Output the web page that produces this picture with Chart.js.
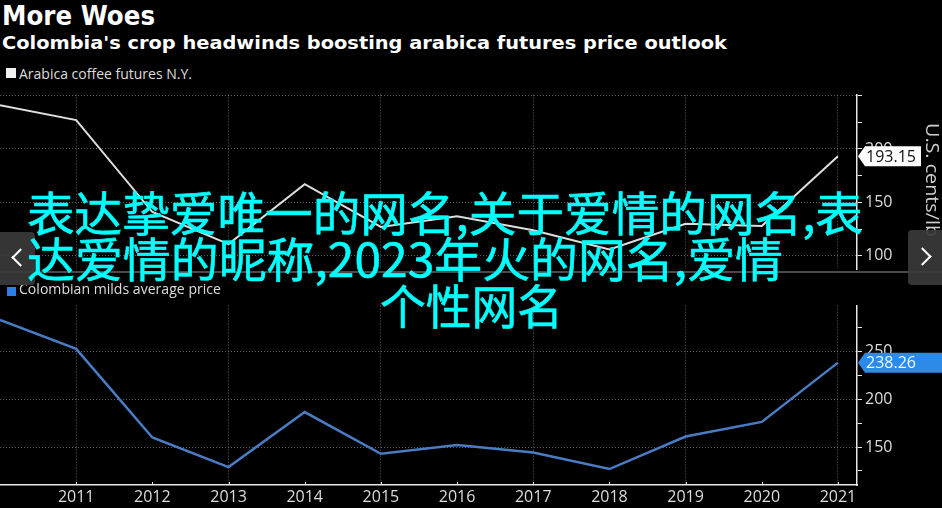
<!DOCTYPE html>
<html>
<head>
<meta charset="utf-8">
<script src="https://cdn.jsdelivr.net/npm/chart.js@4.4.0/dist/chart.umd.min.js"></script>
<style>
html,body{margin:0;padding:0;background:#000;width:942px;height:508px;overflow:hidden;position:relative;}
.abs{position:absolute;white-space:nowrap;transform-origin:0 0;line-height:1;}
.title{font-family:"DejaVu Sans",sans-serif;font-weight:bold;color:#fff;}
.legend{font-family:"Open Sans",sans-serif;color:#ddd;font-size:15px;}
.sw{position:absolute;}
.cyan{font-family:"Noto Sans CJK SC",sans-serif;color:#00ffff;font-size:47px;-webkit-text-stroke:0.6px #00ffff;}
.wrap{position:absolute;left:0;width:942px;}
.nav{position:absolute;background:rgba(58,58,58,0.92);}
.chev{position:absolute;width:11px;height:11px;border-left:2.5px solid #fff;border-bottom:2.5px solid #fff;}
</style>
</head>
<body>
<div id="t1" class="abs title" style="left:2px;top:3px;font-size:26px;">More Woes</div>
<div id="t2" class="abs title" style="left:2px;top:34px;font-size:18px;">Colombia's crop headwinds boosting arabica futures price outlook</div>

<div class="sw" style="left:6px;top:68px;width:10px;height:10px;background:#f2f2f2;"></div>
<div id="l1" class="abs legend" style="left:19px;top:66px;">Arabica coffee futures N.Y.</div>

<div class="wrap" style="top:82px;height:200px;"><canvas id="c1" width="942" height="200"></canvas></div>
<div style="position:absolute;left:0;top:271px;width:942px;height:2px;background:#4a4a4a;"></div>

<div class="sw" style="left:7px;top:287px;width:9px;height:9px;background:#2b7fe6;"></div>
<div id="l2" class="abs legend" style="left:19px;top:281px;">Colombian milds average price</div>

<div class="wrap" style="top:293px;height:215px;"><canvas id="c2" width="942" height="215"></canvas></div>

<div class="nav" style="left:0;top:232px;width:35px;height:53px;border-radius:0 4px 4px 0;">
  <div class="chev" style="left:14px;top:19px;transform:rotate(45deg);"></div>
</div>
<div class="nav" style="left:908px;top:230px;width:34px;height:55px;border-radius:4px 0 0 4px;">
  <div class="chev" style="left:8px;top:20px;transform:rotate(-135deg);"></div>
</div>

<div id="o1" class="abs cyan" style="left:27px;top:187px;">表达挚爱唯一的网名,关于爱情的网名,表</div>
<div id="o2" class="abs cyan" style="left:27px;top:233px;">达爱情的昵称,2023年火的网名,爱情</div>
<div id="o3" class="abs cyan" style="left:380px;top:280px;">个性网名</div>

<script>
// ---- data ----
const years = [2010, 2011, 2012, 2013, 2014, 2015, 2016, 2017, 2018, 2019, 2020, 2021];
const arabicaFutures = [241, 227, 141, 111, 167, 127, 137, 124, 106, 130, 128, 193.15];
const colombianMilds = [283, 252.6, 160, 129, 186.6, 143, 152, 144.3, 127, 161, 176.3, 238.26];
const xTickYears = [2011, 2012, 2013, 2014, 2015, 2016, 2017, 2018, 2019, 2020, 2021];
const topYTicks = [100, 125, 150, 175, 200, 225, 250];
const bottomYTicks = [125, 150, 175, 200, 225, 250, 275];
const axisTitle = 'U.S. cents/lb';

function fit(id, w) {
  const el = document.getElementById(id);
  const cw = el.getBoundingClientRect().width;
  el.style.transform = 'scaleX(' + (w / cw) + ')';
}
fit('t1', 153); fit('t2', 725); fit('l1', 173); fit('l2', 202);
fit('o1', 836); fit('o2', 756); fit('o3', 183);

const GRID = 'rgba(140,140,140,0.7)';
const LBL = '#dcdcdc';
const FONT = '"Open Sans", sans-serif';

const tagPlugin = {
  id: 'tag',
  afterDatasetsDraw(chart, args, opts) {
    const ys = chart.scales.y;
    const d = chart.data.datasets[0].data;
    const last = d[d.length - 1].y;
    const y = ys.getPixelForValue(last);
    const x0 = chart.chartArea.right + 1;
    const ctx = chart.ctx;
    ctx.save();
    ctx.fillStyle = opts.bg;
    ctx.beginPath();
    ctx.moveTo(x0, y);
    ctx.lineTo(x0 + 7, y - 10);
    ctx.lineTo(x0 + opts.width, y - 10);
    ctx.lineTo(x0 + opts.width, y + 10);
    ctx.lineTo(x0 + 7, y + 10);
    ctx.closePath();
    ctx.fill();
    ctx.fillStyle = opts.fg;
    ctx.font = '16px ' + FONT;
    ctx.textBaseline = 'middle';
    ctx.fillText(last.toFixed(2), x0 + 8, y + 1);
    ctx.restore();
  },
  afterDraw(chart, args, opts) {
    const ctx = chart.ctx;
    ctx.save();
    if (opts.xTicks) {
      const xs = chart.scales.x;
      const yb = chart.chartArea.bottom;
      ctx.strokeStyle = '#e8e8e8';
      ctx.lineWidth = 1;
      xTickYears.forEach(v => {
        const x = Math.round(xs.getPixelForValue(v)) + 0.5;
        ctx.beginPath(); ctx.moveTo(x, yb); ctx.lineTo(x, yb - 3); ctx.stroke();
      });
    }
    if (opts.title) {
      ctx.translate(931, (chart.chartArea.top + chart.chartArea.bottom) / 2 - 2);
      ctx.rotate(Math.PI / 2);
      ctx.font = '18px ' + FONT;
      const w = ctx.measureText(opts.title).width;
      ctx.scale(114 / w, 1);
      ctx.fillStyle = '#cfcfcf';
      ctx.textAlign = 'center';
      ctx.textBaseline = 'middle';
      ctx.fillText(opts.title, 0, 0);
    }
    ctx.restore();
  }
};

function makeChart(id, values, color, width, cfg) {
  return new Chart(document.getElementById(id), {
    type: 'line',
    data: {
      datasets: [{
        data: years.map((y, i) => ({ x: y, y: values[i] })),
        borderColor: color,
        borderWidth: width,
        pointRadius: 0,
        tension: 0,
        fill: false
      }]
    },
    plugins: [tagPlugin],
    options: {
      responsive: false,
      animation: false,
      devicePixelRatio: 1,
      layout: { padding: { top: 10, bottom: cfg.padBottom, left: 0, right: 0 } },
      plugins: {
        legend: { display: false },
        tooltip: { enabled: false },
        tag: cfg.tag
      },
      scales: {
        x: {
          type: 'linear',
          min: 2010,
          max: 2021.25,
          afterBuildTicks: s => { s.ticks = xTickYears.map(v => ({ value: v })); },
          afterFit: s => { s.height = cfg.xHeight; },
          grid: {
            color: c => (c.tick && c.tick.value % 2 === 1) ? GRID : 'transparent',
            drawTicks: false,
            lineWidth: 1,
            borderDash: [1, 2]
          },
          border: { display: cfg.showX, color: '#e8e8e8', width: 1.5, dash: [1, 2] },
          ticks: {
            display: cfg.showX,
            color: LBL,
            font: { size: 16, family: FONT },
            padding: 3,
            maxRotation: 0,
            autoSkip: false,
            callback: v => String(v)
          }
        },
        y: {
          type: 'linear',
          position: 'right',
          min: cfg.ymin,
          max: cfg.ymax,
          afterBuildTicks: s => { s.ticks = cfg.yTicks.map(v => ({ value: v })); },
          afterFit: s => { s.width = 85; },
          grid: {
            color: c => (c.tick && c.tick.value % 50 === 0) ? GRID : 'transparent',
            tickColor: '#e8e8e8',
            tickLength: 5,
            lineWidth: 1,
            borderDash: [1, 2]
          },
          border: { display: true, color: '#e8e8e8', width: 1.5, dash: [1, 2] },
          ticks: {
            color: LBL,
            font: { size: 16, family: FONT },
            padding: 3,
            autoSkip: false,
            callback: v => (v % 50 === 0 && cfg.hideLabels.indexOf(v) < 0) ? String(v) : ''
          }
        }
      }
    }
  });
}

makeChart('c1', arabicaFutures, '#dedede', 2, {
  padBottom: 10, xHeight: 0, showX: false,
  ymin: 87.3, ymax: 250.9, yTicks: topYTicks, hideLabels: [250],
  tag: { bg: '#ffffff', fg: '#111', width: 63, title: axisTitle }
});
makeChart('c2', colombianMilds, '#4a7cc4', 2.5, {
  padBottom: 0, xHeight: 23, showX: true,
  ymin: 110.3, ymax: 297.9, yTicks: bottomYTicks, hideLabels: [],
  tag: { bg: '#2d8ae6', fg: '#f0f6ff', width: 85, xTicks: true }
});
</script>
</body>
</html>
